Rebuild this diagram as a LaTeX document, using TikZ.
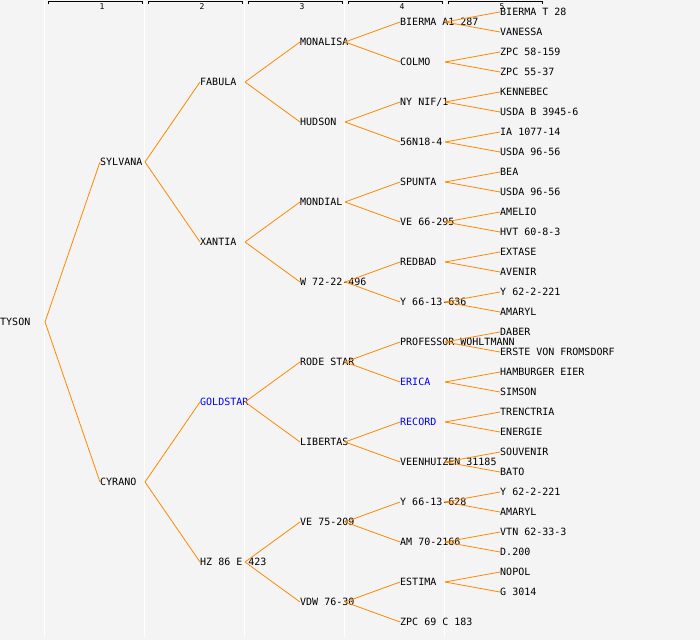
\documentclass[tikz,border=0pt]{standalone}
\usepackage{fontspec}
\setmonofont{DejaVu Sans Mono}
\definecolor{panel}{HTML}{F4F4F4}
\definecolor{pedline}{HTML}{FF8800}

\begin{document}
\begin{tikzpicture}[x=1pt, y=1pt, grow'=right, growth parent anchor=west, level distance=100pt,
   edge from parent path={([xshift=45pt]\tikzparentnode.west) -- (\tikzchildnode.west)}]
   \tikzstyle{level 1}=[sibling distance=320pt]
   \tikzstyle{level 2}=[sibling distance=160pt]
   \tikzstyle{level 3}=[sibling distance=80pt]
   \tikzstyle{level 4}=[sibling distance=40pt]
   \tikzstyle{level 5}=[sibling distance=20pt]
   \tikzstyle{every node}=[anchor=west, inner sep=0pt, text height=7.3pt, text depth=0pt, font=\ttfamily\fontsize{10}{10}\selectfont]
   \tikzstyle{edge from parent}=[draw=pedline, line width=0.8pt]
   \tikzstyle{highlight}=[text=blue]
   \tikzstyle{genlabel}=[anchor=center, text height=6pt, font=\ttfamily\fontsize{8}{8}\selectfont]

\useasboundingbox (0,0) rectangle (700,640);
\fill[panel] (0,0) rectangle (700,640);
% column rules
\foreach \x in {44.5,144.5,...,444.5}
    \draw[white, line width=1pt] (\x,640) -- (\x,3);
% generation brackets
\foreach \g in {1,...,5} {
    \draw[line width=0.8pt] (100*\g-52,635.5) -- (100*\g-52,638.6) -- (100*\g+42,638.6) -- (100*\g+42,635.5);
    \node[genlabel] (gen\g) at (100*\g+2,633.5) {\g};
}

\node (tyson) at (0,318) {TYSON}
    child {node (sylvana) {SYLVANA}
        child {node (fabula) {FABULA}
            child {node (monalisa) {MONALISA}
                child {node (biermaA) {BIERMA A1 287}
                    child {node (biermaT) {BIERMA T 28}}
                    child {node (vanessa) {VANESSA}}
                }
                child {node (colmo) {COLMO}
                    child {node (zpcA) {ZPC 58-159}}
                    child {node (zpcB) {ZPC 55-37}}
                }
            }
            child {node (hudson) {HUDSON}
                child {node (nynif) {NY NIF/1}
                    child {node (kennebec) {KENNEBEC}}
                    child {node (usdaB) {USDA B 3945-6}}
                }
                child {node (n56) {56N18-4}
                    child {node (ia) {IA 1077-14}}
                    child {node (usdaA) {USDA 96-56}}
                }
            }
        }
        child {node (xantia) {XANTIA}
            child {node (mondial) {MONDIAL}
                child {node (spunta) {SPUNTA}
                    child {node (bea) {BEA}}
                    child {node (usdaC) {USDA 96-56}}
                }
                child {node (ve66) {VE 66-295}
                    child {node (amelio) {AMELIO}}
                    child {node (hvt) {HVT 60-8-3}}
                }
            }
            child {node (w72) {W 72-22-496}
                child {node (redbad) {REDBAD}
                    child {node (extase) {EXTASE}}
                    child {node (avenir) {AVENIR}}
                }
                child {node (y636) {Y 66-13-636}
                    child {node (y62a) {Y 62-2-221}}
                    child {node (amarylA) {AMARYL}}
                }
            }
        }
    }
    child {node (cyrano) {CYRANO}
        child {node[highlight] (goldstar) {GOLDSTAR}
            child {node (rodestar) {RODE STAR}
                child {node (professor) {PROFESSOR WOHLTMANN}
                    child {node (daber) {DABER}}
                    child {node (erste) {ERSTE VON FROMSDORF}}
                }
                child {node[highlight] (erica) {ERICA}
                    child {node (hamburger) {HAMBURGER EIER}}
                    child {node (simson) {SIMSON}}
                }
            }
            child {node (libertas) {LIBERTAS}
                child {node[highlight] (record) {RECORD}
                    child {node (trenctria) {TRENCTRIA}}
                    child {node (energie) {ENERGIE}}
                }
                child {node (veenhuizen) {VEENHUIZEN 31185}
                    child {node (souvenir) {SOUVENIR}}
                    child {node (bato) {BATO}}
                }
            }
        }
        child {node (hz86) {HZ 86 E 423}
            child {node (ve75) {VE 75-209}
                child {node (y628) {Y 66-13-628}
                    child {node (y62b) {Y 62-2-221}}
                    child {node (amarylB) {AMARYL}}
                }
                child {node (am70) {AM 70-2166}
                    child {node (vtn) {VTN 62-33-3}}
                    child {node (d200) {D.200}}
                }
            }
            child {node (vdw) {VDW 76-30}
                child {node (estima) {ESTIMA}
                    child {node (nopol) {NOPOL}}
                    child {node (g3014) {G 3014}}
                }
                child {node (zpc69) {ZPC 69 C 183}}
            }
        }
    };

\end{tikzpicture}
\end{document}
